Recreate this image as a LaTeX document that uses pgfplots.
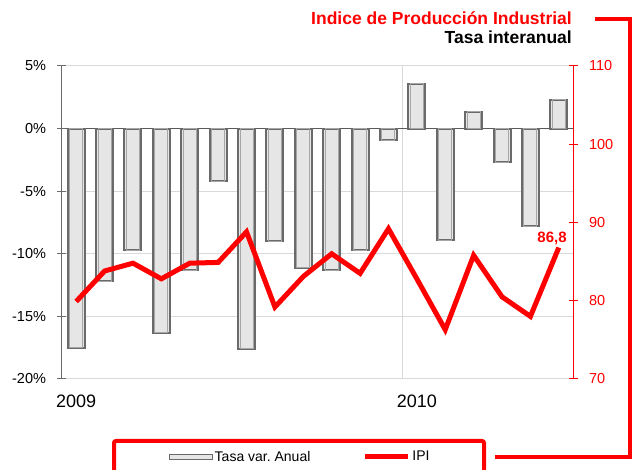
\documentclass[border=0pt]{standalone}
\usepackage{fontspec}
\setmainfont{Liberation Sans}
\usepackage{pgfplots}
\pgfplotsset{compat=1.18}
\definecolor{ipired}{HTML}{FF0000}
\definecolor{barfill}{HTML}{E6E6E6}
\definecolor{baredge}{HTML}{6A6A6A}
\definecolor{barinner}{HTML}{A6A6A6}
\definecolor{gridgray}{HTML}{D9D9D9}
\definecolor{zerogray}{HTML}{5A5A5A}

\pgfplotstableread{
idx tasa
0   -17.5
1   -12.2
2   -9.7
3   -16.3
4   -11.3
5   -4.2
6   -17.6
7   -9.0
8   -11.1
9   -11.3
10  -9.7
11  -0.95
12  3.6
13  -8.9
14  1.35
15  -2.7
16  -7.8
17  2.3
}\tasatable

\pgfplotstableread{
idx ipi
0   79.9
1   83.8
2   84.8
3   82.8
4   84.8
5   84.9
6   88.8
7   79.2
8   83.1
9   86.0
10  83.5
11  89.2
12  82.8
13  76.3
14  85.8
15  80.5
16  78.0
17  86.8
}\ipitable

\begin{document}
\frenchspacing
\begin{tikzpicture}[x=1pt,y=1pt]
\useasboundingbox (0,0) rectangle (633,470);
\clip (0,0) rectangle (633,470);

% left axis: tasa interanual
\begin{axis}[
    at={(62pt,91pt)}, anchor=south west,
    scale only axis, width=511pt, height=313pt,
    xmin=-0.5, xmax=17.5,
    ymin=-20, ymax=5,
    axis x line*=bottom, axis y line*=left,
    x axis line style={draw=none},
    y axis line style={draw=baredge, line width=1pt},
    xtick={0,12}, xticklabels={2009,2010},
    xtick style={draw=none},
    xticklabel style={font=\fontsize{18}{18}\selectfont, yshift=-8pt},
    ytick={-20,-15,-10,-5,0,5},
    yticklabels={-20\%,-15\%,-10\%,-5\%,0\%,5\%},
    yticklabel style={font=\fontsize{14.5}{14.5}\selectfont, xshift=-8pt},
    ytick style={draw=baredge, line width=1pt},
    tick align=center, major tick length=9pt,
    ymajorgrids, grid style={gridgray, line width=1pt},
    extra x ticks={11.5}, extra x tick labels={},
    extra x tick style={grid=major, grid style={gridgray, line width=1pt}, major tick length=0pt},
    extra y ticks={0}, extra y tick labels={},
    extra y tick style={grid=major, grid style={zerogray, line width=1pt}},
    clip=false,
]
\addplot[ybar, bar width=17pt, bar shift=0pt, fill=barfill, draw=baredge, line width=2pt]
    table[x=idx, y=tasa] {\tasatable};
\addplot[ybar, bar width=13pt, bar shift=0pt, fill=none, draw=barinner, line width=1pt]
    table[x=idx, y=tasa] {\tasatable};
\end{axis}

% right axis: IPI
\begin{axis}[
    at={(62pt,91pt)}, anchor=south west,
    scale only axis, width=511pt, height=313pt,
    xmin=-0.5, xmax=17.5,
    ymin=70, ymax=110,
    axis x line=none, axis y line*=right,
    y axis line style={draw=ipired, line width=1pt},
    ytick={70,80,90,100,110},
    yticklabel style={font=\fontsize{14.5}{14.5}\selectfont, text=ipired, xshift=8pt},
    /pgf/number format/assume math mode=true,
    ytick style={draw=ipired, line width=1pt},
    tick align=center, major tick length=9pt,
    clip=false,
    legend columns=2,
    legend style={draw=none, fill=none, at={(0.4658,-0.249)}, anchor=center,
        font=\fontsize{14}{14}\selectfont,
        /tikz/every even column/.append style={column sep=50pt}},
]
\addlegendimage{legend image code/.code={
    \draw[fill=barfill, draw=baredge, line width=1.2pt] (0pt,-2.5pt) rectangle (43pt,2.5pt);}}
\addlegendentry{Tasa var. Anual}
\addplot[ipired, line width=5pt, no marks,
    legend image code/.code={\draw[ipired, line width=5pt] (0pt,0pt) -- (43pt,0pt);}]
    table[x=idx, y=ipi] {\ipitable};
\addlegendentry{IPI}
\node[anchor=south east, text=ipired, font=\bfseries\fontsize{15}{15}\selectfont, inner sep=0pt]
    at (axis cs:17,86.8) [xshift=8pt, yshift=3pt] {86,8};
\end{axis}

% titles
\node[anchor=base east, text=ipired, font=\bfseries\fontsize{17.5}{17.5}\selectfont, inner sep=0pt]
    at (572,445) {Indice de Producción Industrial};
\node[anchor=base east, text=black, font=\bfseries\fontsize{17.5}{17.5}\selectfont, inner sep=0pt]
    at (572,426) {Tasa interanual};

% red frame decorations
\draw[ipired, line width=4pt] (595,451) -- (630,451) -- (630,13) -- (495,13);
\draw[ipired, line width=4pt, rounded corners=2pt] (114,-30) -- (114,29) -- (484,29) -- (484,-30);
\end{tikzpicture}
\end{document}
